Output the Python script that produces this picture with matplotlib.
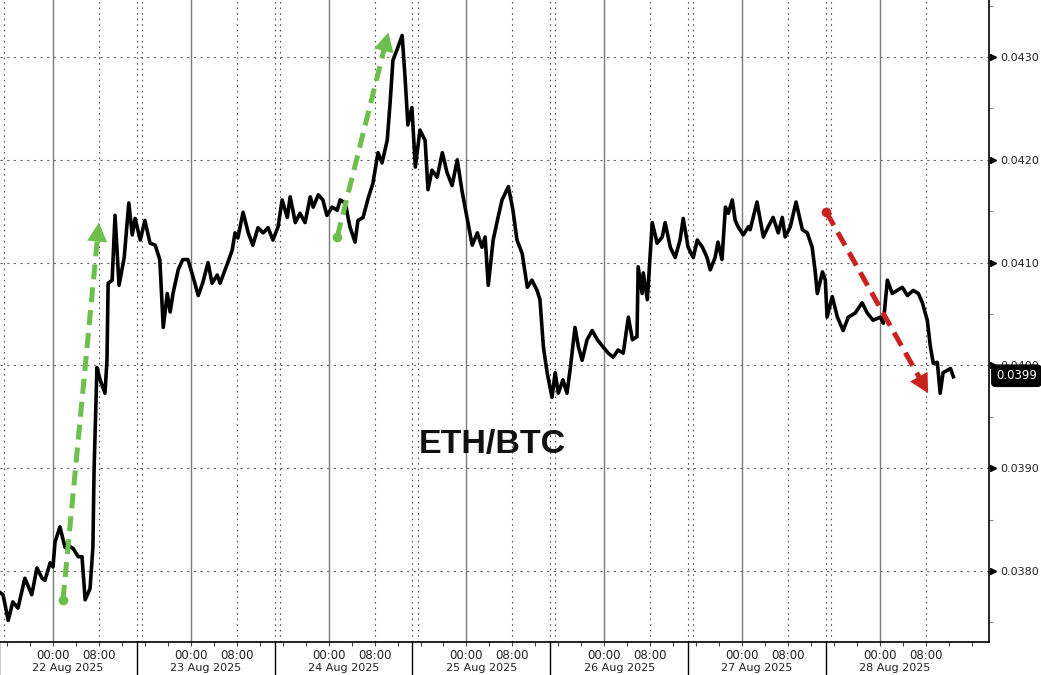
import numpy as np
import matplotlib.pyplot as plt
import matplotlib.dates as mdates
import matplotlib.transforms as mtransforms
from matplotlib.patches import Polygon
import pandas as pd

# hours after 22 Aug 2025 00:00 and the ETH/BTC ratio
hours = [
    -9.2, -8.7, -7.8, -7.0, -6.1, -4.9, -3.7, -2.8, -1.9, -1.4, -0.5, 0.0,
    0.35, 1.2, 2.1, 2.6, 3.5, 4.4, 5.05, 5.6, 6.45, 6.95, 7.15, 7.65, 8.2,
    9.05, 9.4, 9.6, 10.3, 10.8, 11.5, 12.4, 13.2, 13.8, 14.3, 15.2, 16.0,
    16.9, 17.8, 18.6, 19.2, 19.9, 20.4, 20.9, 21.8, 22.6, 23.5, 24.4, 25.3,
    26.1, 27.0, 27.7, 28.6, 29.1, 30.3, 31.2, 31.7, 32.2, 33.1, 34.0, 34.8,
    35.7, 36.6, 37.45, 38.3, 39.2, 39.9, 40.8, 41.3, 42.2, 43.0, 43.9, 44.8,
    45.3, 46.2, 47.0, 47.7, 48.6, 49.5, 50.0, 50.9, 51.7, 52.6, 53.1, 54.0,
    54.9, 55.7, 56.6, 57.3, 58.2, 58.7, 59.2, 59.9, 60.8, 61.3, 61.8, 62.5,
    63.1, 63.9, 64.8, 65.3, 66.0, 66.9, 67.8, 68.6, 69.5, 70.4, 71.25, 72.1,
    73.0, 73.9, 74.7, 75.25, 75.8, 76.65, 77.5, 78.2, 79.3, 80.1, 80.8, 81.7,
    82.6, 83.4, 84.3, 84.8, 85.4, 86.05, 86.9, 87.45, 88.0, 88.8, 89.5, 90.1,
    90.9, 91.5, 92.15, 93.0, 93.9, 94.8, 95.8, 96.7, 97.55, 98.4, 99.3,
    100.2, 100.9, 101.7, 101.9, 102.6, 102.8, 103.5, 104.35, 105.2, 106.1,
    106.6, 107.5, 108.35, 109.2, 109.75, 110.6, 111.5, 112.2, 113.1, 113.9,
    114.45, 115.3, 115.8, 116.5, 117.1, 117.6, 118.3, 118.8, 119.3, 120.2,
    121.1, 121.4, 122.6, 123.7, 124.55, 125.4, 126.3, 127.0, 127.5, 128.4,
    129.4, 130.5, 131.35, 132.2, 132.7, 133.1, 134.0, 134.5, 134.8, 135.7,
    136.6, 137.6, 138.5, 139.7, 140.9, 141.8, 142.8, 144.1, 144.6, 145.3,
    146.15, 147.0, 147.9, 148.8, 149.8, 150.7, 151.4, 152.25, 152.8, 153.3,
    154.0, 154.5, 155.0, 156.3, 156.8,
]
ratio = [
    0.03779, 0.03777, 0.03752, 0.03770, 0.03764, 0.03793, 0.03777, 0.03803,
    0.03793, 0.03791, 0.03808, 0.03804, 0.03828, 0.03843, 0.03823, 0.03825,
    0.03822, 0.03814, 0.03814, 0.03772, 0.03783, 0.03823, 0.03898, 0.03998,
    0.03986, 0.03973, 0.04005, 0.04080, 0.04083, 0.04146, 0.04078, 0.04105,
    0.04158, 0.04127, 0.04143, 0.04122, 0.04141, 0.04119, 0.04117, 0.04103,
    0.04037, 0.04070, 0.04052, 0.04070, 0.04093, 0.04103, 0.04103, 0.04086,
    0.04068, 0.04081, 0.04100, 0.04080, 0.04088, 0.04080, 0.04098, 0.04112,
    0.04129, 0.04124, 0.04149, 0.04129, 0.04117, 0.04134, 0.04129, 0.04134,
    0.04122, 0.04135, 0.04161, 0.04144, 0.04164, 0.04139, 0.04148, 0.04139,
    0.04164, 0.04154, 0.04166, 0.04161, 0.04146, 0.04154, 0.04151, 0.04161,
    0.04158, 0.04135, 0.04120, 0.04141, 0.04144, 0.04163, 0.04177, 0.04207,
    0.04197, 0.04219, 0.04255, 0.04297, 0.04307, 0.04321, 0.04281, 0.04234,
    0.04251, 0.04193, 0.04229, 0.04219, 0.04171, 0.04190, 0.04183, 0.04207,
    0.04188, 0.04175, 0.04200, 0.04169, 0.04144, 0.04117, 0.04129, 0.04115,
    0.04125, 0.04078, 0.04122, 0.04144, 0.04161, 0.04174, 0.04151, 0.04122,
    0.04109, 0.04076, 0.04083, 0.04073, 0.04064, 0.04018, 0.03993, 0.03969,
    0.03993, 0.03973, 0.03986, 0.03973, 0.03998, 0.04037, 0.04018, 0.04005,
    0.04025, 0.04034, 0.04025, 0.04018, 0.04012, 0.04008, 0.04015, 0.04012,
    0.04047, 0.04025, 0.04028, 0.04096, 0.04070, 0.04090, 0.04064, 0.04139,
    0.04119, 0.04125, 0.04139, 0.04115, 0.04105, 0.04122, 0.04143, 0.04115,
    0.04105, 0.04122, 0.04115, 0.04105, 0.04093, 0.04105, 0.04120, 0.04103,
    0.04154, 0.04148, 0.04161, 0.04141, 0.04135, 0.04127, 0.04135, 0.04132,
    0.04159, 0.04125, 0.04135, 0.04144, 0.04129, 0.04144, 0.04125, 0.04135,
    0.04159, 0.04132, 0.04129, 0.04115, 0.04093, 0.04070, 0.04091, 0.04083,
    0.04047, 0.04067, 0.04047, 0.04034, 0.04047, 0.04051, 0.04061, 0.04051,
    0.04044, 0.04047, 0.04041, 0.04083, 0.04070, 0.04073, 0.04076, 0.04068,
    0.04073, 0.04070, 0.04061, 0.04044, 0.04018, 0.04002, 0.04003, 0.03973,
    0.03993, 0.03997, 0.03989,
]

# annotation arrows: (start hour, start ratio, tip hour, tip ratio, colour)
arrows = [
    (1.74, 0.03772, 8.0, 0.04139, "#6cbf4c"),
    (49.5, 0.04125, 58.4, 0.04324, "#6cbf4c"),
    (134.7, 0.04149, 152.4, 0.03973, "#c9221f"),
]

days = ["22 Aug 2025", "23 Aug 2025", "24 Aug 2025", "25 Aug 2025",
        "26 Aug 2025", "27 Aug 2025", "28 Aug 2025"]
y_ticks = [0.0380, 0.0390, 0.0400, 0.0410, 0.0420, 0.0430]
last_label = "0.0399"
title = "ETH/BTC"

BASE = pd.Timestamp("2025-08-22")


def at(h):
    return mdates.date2num(BASE + pd.Timedelta(hours=h))


def draw_arrow(ax, h0, v0, h1, v1, col, head_len=19, half_w=10):
    """Dashed shaft with a solid triangular head, sized in pixels."""
    p0 = ax.transData.transform((at(h0), v0))
    p1 = ax.transData.transform((at(h1), v1))
    u = (p1 - p0) / np.hypot(*(p1 - p0))
    n = np.array([-u[1], u[0]])
    base = p1 - u * head_len
    inv = ax.transData.inverted()
    shaft_end = inv.transform(base + u * 3)
    ax.plot([at(h0), shaft_end[0]], [v0, shaft_end[1]], color=col, lw=3.6,
            ls=(0, (3, 1.6)), dash_capstyle="butt", zorder=5)
    tri = inv.transform(np.array([p1, base + n * half_w, base - n * half_w]))
    ax.add_patch(Polygon(tri, closed=True, facecolor=col, edgecolor="none",
                         zorder=5))
    ax.plot(at(h0), v0, "o", color=col, ms=7, mec="none", zorder=6)


def main():
    plt.rcParams["font.family"] = "DejaVu Sans"
    fig = plt.figure(figsize=(10.41, 6.75), dpi=100)
    ax = fig.add_axes([0, 33 / 675, 989 / 1041, 642 / 675])

    x = [at(h) for h in hours]
    ax.set_xlim(at(-9.23), at(163.0))
    ax.set_ylim(0.03731, 0.043555)

    # grid
    for v in y_ticks:
        ax.axhline(v, color="#666666", lw=0.8, ls=(0, (2, 4)), zorder=1)
    for d in range(-1, 7):
        day0 = 24 * d
        if d >= 0:
            ax.axvline(at(day0), color="#7a7a7a", lw=1.0, zorder=1)
            ax.axvline(at(day0 + 8), color="#555555", lw=0.8,
                       ls=(0, (1.5, 3.5)), zorder=1)
        if d <= 5:
            for off in (14.6, 15.5):
                ax.axvline(at(day0 + off), color="#555555", lw=0.8,
                           ls=(0, (1.5, 3.5)), zorder=1)
            # separator under the axis between date labels
            ax.axvline(at(day0 + 14.6), ymin=-33 / 642, ymax=0, color="black",
                       lw=1.0, clip_on=False)

    ax.plot(x, ratio, color="black", lw=2.6, zorder=4, solid_joinstyle="round")

    for h0, v0, h1, v1, col in arrows:
        draw_arrow(ax, h0, v0, h1, v1, col)

    # spines
    for side in ("left", "top"):
        ax.spines[side].set_visible(False)
    ax.spines["right"].set_linewidth(1.2)
    ax.spines["bottom"].set_linewidth(1.2)

    # y axis on the right
    ax.yaxis.tick_right()
    ax.set_yticks(y_ticks)
    ax.set_yticklabels([f"{v:.4f}" for v in y_ticks])
    ax.set_yticks([v + 0.0005 for v in [0.0370] + y_ticks], minor=True)
    ax.tick_params(axis="y", which="major", length=0, pad=8, labelsize=8,
                   labelcolor="#222222")
    ax.tick_params(axis="y", which="minor", length=3, width=0.8,
                   color="#888888")
    tr_y = mtransforms.blended_transform_factory(ax.transAxes, ax.transData)
    ax.plot([1.004] * len(y_ticks), y_ticks, ">", color="black", ms=4,
            transform=tr_y, clip_on=False)

    # x axis: ticks every 4 hours, labels at 00:00 and 08:00
    ax.xaxis.set_major_locator(mdates.HourLocator(byhour=range(0, 24, 4)))

    def fmt(val, pos):
        t = mdates.num2date(val)
        return t.strftime("%H:%M") if t.hour in (0, 8) else ""

    ax.xaxis.set_major_formatter(plt.FuncFormatter(fmt))
    ax.tick_params(axis="x", length=3, width=0.8, pad=2, labelsize=8.5,
                   labelcolor="#222222", color="#444444")

    tr_x = mtransforms.blended_transform_factory(ax.transData, ax.transAxes)
    for i, lab in enumerate(days):
        ax.text(at(24 * i + 2.6), -26 / 642, lab, transform=tr_x, ha="center",
                va="center", fontsize=8, color="#222222")

    # last value tag, drawn over the 0.0400 label as in the original
    ax.text(1.007, 0.0399, last_label, transform=tr_y, ha="left", va="center",
            fontsize=8.5, color="white", zorder=10, clip_on=False,
            bbox=dict(boxstyle="round,pad=0.35,rounding_size=0.3",
                      fc="black", ec="black"))

    ax.text(492 / 989, 198 / 642, title, transform=ax.transAxes, ha="center",
            va="center", fontsize=24.5, fontweight="bold",
            family="Liberation Sans", color="#111111", zorder=7)

    fig.savefig("out.png", dpi=100)
    plt.close(fig)


if __name__ == "__main__":
    main()
